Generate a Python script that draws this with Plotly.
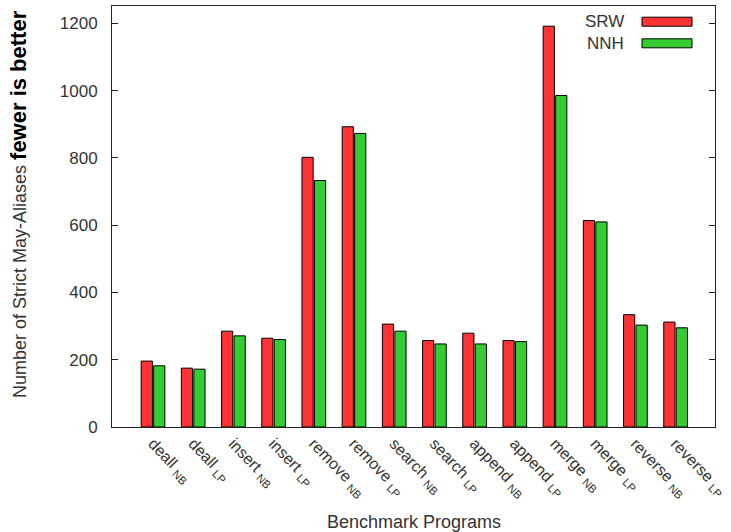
import plotly.graph_objects as go

categories = ["deall <sub>NB</sub>", "deall <sub>LP</sub>", "insert <sub>NB</sub>", "insert <sub>LP</sub>",
              "remove <sub>NB</sub>", "remove <sub>LP</sub>", "search <sub>NB</sub>", "search <sub>LP</sub>",
              "append <sub>NB</sub>", "append <sub>LP</sub>", "merge <sub>NB</sub>", "merge <sub>LP</sub>",
              "reverse <sub>NB</sub>", "reverse <sub>LP</sub>"]
srw = [196, 175, 285, 264, 802, 893, 306, 257, 279, 257, 1192, 614, 334, 312]
nnh = [182, 172, 271, 260, 733, 873, 285, 247, 247, 254, 986, 610, 303, 295]
y_ticks = [0, 200, 400, 600, 800, 1000, 1200]

RED = "#ff3333"
GREEN = "#33cc33"
FONT = "Liberation Sans, Arial, sans-serif"
TXT = "#333333"

x_idx = list(range(len(categories)))

fig = go.Figure()
fig.add_trace(go.Bar(x=x_idx, y=srw, name="SRW", marker=dict(color=RED, line=dict(color="black", width=1)),
                     showlegend=False))
fig.add_trace(go.Bar(x=x_idx, y=nnh, name="NNH", marker=dict(color=GREEN, line=dict(color="black", width=1)),
                     showlegend=False))

fig.update_layout(
    width=731, height=532,
    margin=dict(l=112, r=16, t=6, b=105),
    paper_bgcolor="white", plot_bgcolor="white",
    barmode="group", bargap=0.38, bargroupgap=0.1,
    font=dict(family=FONT, size=17, color=TXT),
)
fig.update_xaxes(
    range=[-1.02, 13.98], tickmode="array", tickvals=x_idx, ticktext=categories,
    tickangle=46, ticks="", showgrid=False, zeroline=False,
    showline=True, linecolor="#222222", linewidth=1, mirror=True,
    ticklabeloverflow="allow", automargin=False,
    tickfont=dict(family=FONT, size=16, color=TXT),
)
fig.update_yaxes(
    range=[0, 1252], tickvals=y_ticks, ticks="inside", ticklen=6, tickcolor="#222222",
    showgrid=False, zeroline=False, showline=True, linecolor="#222222", linewidth=1, mirror="ticks",
    ticklabelstandoff=10, automargin=False,
    tickfont=dict(family=FONT, size=17, color=TXT),
)

# Axis titles
fig.add_annotation(
    xref="paper", yref="paper", x=(18 - 112) / 603, y=(427 - 204) / 421,
    text="Number of Strict May-Aliases <b><span style='font-size:22px;color:#000000'>fewer is better</span></b>",
    textangle=-90, showarrow=False, xanchor="center", yanchor="middle",
    font=dict(family=FONT, size=18, color=TXT),
)
fig.add_annotation(
    xref="paper", yref="paper", x=0.5, y=(427 - 522) / 421,
    text="Benchmark Programs", showarrow=False, xanchor="center", yanchor="middle",
    font=dict(family=FONT, size=18, color=TXT),
)

# Legend (gnuplot style: label then wide swatch)
for name, color, ymid in [("SRW", RED, 21.7), ("NNH", GREEN, 43.3)]:
    fig.add_annotation(
        xref="paper", yref="paper", x=(626 - 112) / 603, y=(427 - ymid) / 421,
        text=name, showarrow=False, xanchor="right", yanchor="middle",
        font=dict(family=FONT, size=17, color=TXT),
    )
    fig.add_shape(
        type="rect", xref="paper", yref="paper",
        x0=(642 - 112) / 603, x1=(692 - 112) / 603,
        y0=(427 - (ymid + 4.5)) / 421, y1=(427 - (ymid - 4.5)) / 421,
        fillcolor=color, line=dict(color="black", width=1),
    )

fig.write_html("out.html", config={"displayModeBar": False},
               post_script="document.body.style.margin='0';document.body.style.overflow='hidden';")
